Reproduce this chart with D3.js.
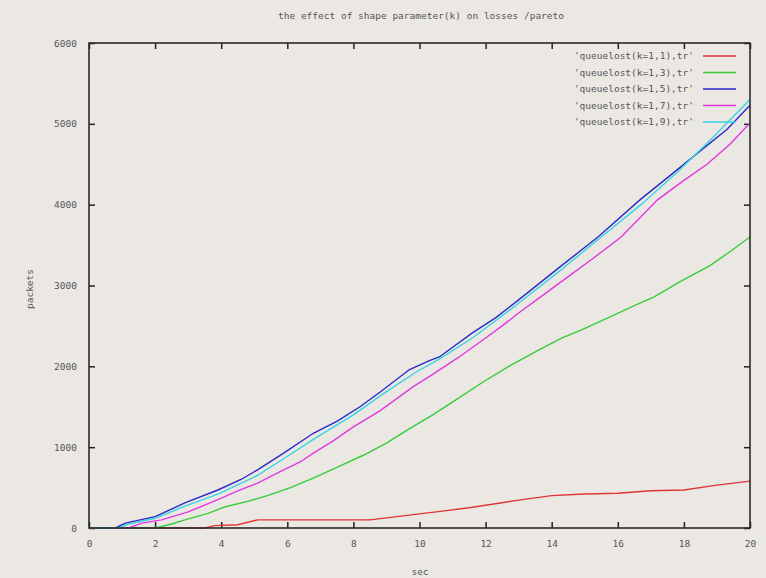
<!DOCTYPE html>
<html>
<head>
<meta charset="utf-8">
<script src="https://cdn.jsdelivr.net/npm/d3@7"></script>
<style>
  body { margin: 0; background: #ebe8e3; }
  svg { display: block; }
  text { font-family: "DejaVu Sans Mono", monospace; fill: #555; }
</style>
</head>
<body>
<div id="chart"></div>
<script>
// queue losses (packets), per shape parameter k
let secK11  = [0, 3.5, 3.8, 4.5, 5.1, 8.5, 9.5, 10.5, 11.5, 12.3, 13, 14, 15, 16, 17, 18, 19, 20];
let lostK11 = [0, 0, 30, 40, 100, 100, 150, 200, 250, 300, 345, 400, 420, 430, 460, 470, 530, 580];

let secK13  = [0, 2.0, 2.5, 2.9, 3.6, 4.1, 4.8, 5.4, 6.1, 6.8, 7.5, 8.3, 9, 9.7, 10.4, 11.1, 11.9, 12.7, 13.6, 14.3, 14.9, 15.7, 16.5, 17.1, 17.9, 18.8, 19.4, 20];
let lostK13 = [0, 0, 50, 100, 180, 260, 330, 400, 500, 620, 750, 900, 1050, 1230, 1400, 1584, 1800, 2000, 2200, 2350, 2450, 2600, 2750, 2860, 3050, 3250, 3420, 3600];

let secK15  = [0, 0.8, 1.1, 2.0, 2.9, 3.9, 4.6, 5.1, 5.9, 6.8, 7.5, 8.2, 8.8, 9.7, 10.3, 10.6, 11.6, 12.3, 13, 14.25, 15.4, 16.67, 17.7, 18.6, 19.3, 20];
let lostK15 = [0, 0, 60, 140, 310, 470, 600, 720, 930, 1175, 1320, 1500, 1680, 1960, 2070, 2116, 2413, 2600, 2822, 3230, 3600, 4059, 4400, 4700, 4930, 5230];

let secK17  = [0, 1.2, 1.6, 2.2, 3.0, 3.9, 4.5, 5.1, 5.8, 6.4, 6.8, 7.4, 8, 8.8, 9.8, 10.4, 11.2, 12, 12.5, 13, 13.8, 14.5, 15.3, 16.1, 16.7, 17.2, 18, 18.7, 19.4, 20];
let lostK17 = [0, 0, 60, 100, 200, 350, 460, 555, 700, 820, 930, 1080, 1250, 1450, 1745, 1900, 2116, 2350, 2500, 2660, 2900, 3110, 3350, 3600, 3850, 4060, 4300, 4500, 4750, 5010];

let secK19  = [0, 0.9, 1.2, 2.0, 2.9, 3.9, 5.1, 5.9, 6.8, 8, 8.9, 9.9, 10.6, 11.6, 13, 14.3, 15.5, 16.7, 17.8, 18.8, 19.4, 20];
let lostK19 = [0, 0, 50, 120, 270, 420, 650, 860, 1100, 1400, 1660, 1930, 2090, 2350, 2780, 3200, 3600, 4000, 4400, 4800, 5050, 5300];

let seriesNames = ["'queuelost(k=1,1),tr'", "'queuelost(k=1,3),tr'", "'queuelost(k=1,5),tr'",
                   "'queuelost(k=1,7),tr'", "'queuelost(k=1,9),tr'"];
let seriesColors = ['#e03535', '#38cc38', '#2a2ac8', '#e038e0', '#38d4e0'];

let xTicks = [0, 2, 4, 6, 8, 10, 12, 14, 16, 18, 20];
let yTicks = [0, 1000, 2000, 3000, 4000, 5000, 6000];

let width = 766, height = 578;
let margin = {top: 43, left: 89, right: 16, bottom: 50};

let svg = d3.select('#chart').append('svg')
    .attr('width', width)
    .attr('height', height);

let x = d3.scaleLinear().domain([0, 20]).range([margin.left, width - margin.right]);
let y = d3.scaleLinear().domain([0, 6000]).range([height - margin.bottom, margin.top]);

// title + axis labels
svg.append('text')
    .attr('x', 421).attr('y', 19)
    .attr('text-anchor', 'middle')
    .style('font-size', '9.5px')
    .text('the effect of shape parameter(k) on losses /pareto');

svg.append('text')
    .attr('transform', 'translate(33,289) rotate(-90)')
    .attr('text-anchor', 'middle')
    .style('font-size', '9.5px')
    .text('packets');

svg.append('text')
    .attr('x', 420).attr('y', 575)
    .attr('text-anchor', 'middle')
    .style('font-size', '9.5px')
    .text('sec');

// ticks (gnuplot style: inward, mirrored)
let tickLen = 6;
let axisG = svg.append('g');
let xAxisB = d3.axisBottom(x).tickValues(xTicks).tickSizeInner(-tickLen).tickSizeOuter(0).tickPadding(12).tickFormat(d3.format('d'));
let xAxisT = d3.axisTop(x).tickValues(xTicks).tickSizeInner(-tickLen).tickSizeOuter(0).tickFormat('');
let yAxisL = d3.axisLeft(y).tickValues(yTicks).tickSizeInner(-tickLen).tickSizeOuter(0).tickPadding(12).tickFormat(d3.format('d'));
let yAxisR = d3.axisRight(y).tickValues(yTicks).tickSizeInner(-tickLen).tickSizeOuter(0).tickFormat('');

axisG.append('g').attr('transform', `translate(0,${y(0)})`).call(xAxisB);
axisG.append('g').attr('transform', `translate(0,${y(6000)})`).call(xAxisT);
axisG.append('g').attr('transform', `translate(${x(0)},0)`).call(yAxisL);
axisG.append('g').attr('transform', `translate(${x(20)},0)`).call(yAxisR);

axisG.selectAll('.domain').remove();
axisG.selectAll('.tick line').attr('stroke', '#222').attr('stroke-width', 1.5);
axisG.selectAll('.tick text')
    .style('font-size', '9.5px')
    .style('font-family', '"DejaVu Sans Mono", monospace')
    .attr('fill', '#555');

// series lines
let line = d3.line()
    .x(d => x(d[0]))
    .y(d => y(d[1]));

let allSecs = [secK11, secK13, secK15, secK17, secK19];
let allLost = [lostK11, lostK13, lostK15, lostK17, lostK19];

let plot = svg.append('g');
for (let i = 0; i < allSecs.length; i++) {
    let pts = allSecs[i].map((s, j) => [s, allLost[i][j]]);
    plot.append('path')
        .datum(pts)
        .attr('d', line)
        .attr('fill', 'none')
        .attr('stroke', seriesColors[i])
        .attr('stroke-width', 1.4);
}

// frame
svg.append('rect')
    .attr('x', x(0)).attr('y', y(6000))
    .attr('width', x(20) - x(0))
    .attr('height', y(0) - y(6000))
    .attr('fill', 'none')
    .attr('stroke', '#2a2a2a')
    .attr('stroke-width', 1.6);

// legend
let legend = svg.append('g');
for (let i = 0; i < seriesNames.length; i++) {
    let ly = 56 + i * 16.5;
    legend.append('text')
        .attr('x', 694).attr('y', ly + 3)
        .attr('text-anchor', 'end')
        .style('font-size', '9.5px')
        .text(seriesNames[i]);
    legend.append('line')
        .attr('x1', 703).attr('x2', 736)
        .attr('y1', ly).attr('y2', ly)
        .attr('stroke', seriesColors[i])
        .attr('stroke-width', 1.4);
}
</script>
</body>
</html>
